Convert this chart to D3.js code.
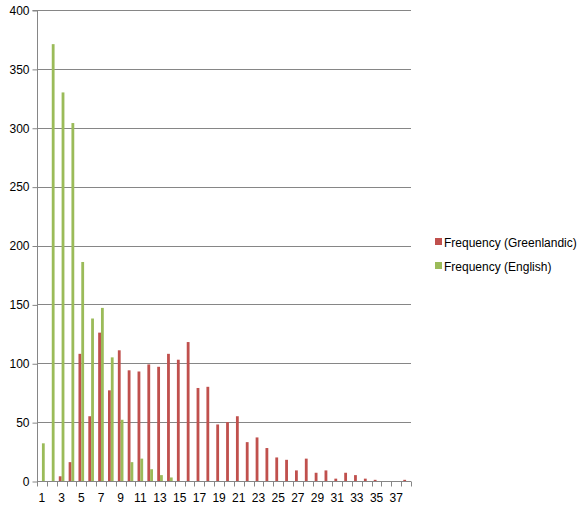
<!DOCTYPE html>
<html><head><meta charset="utf-8">
<script src="https://cdn.jsdelivr.net/npm/d3@7"></script>
<style>body{margin:0;background:#fff}svg{display:block;font-family:"Liberation Sans",Arial,sans-serif}</style>
</head><body><div id="chart"></div>
<script>
const categories = d3.range(1, 39);
const seriesNames = ["Frequency (Greenlandic)", "Frequency (English)"];
const greenlandic = [0,0,4,16,108,55,126,77,111,94,93,99,97,108,103,118,79,80,48,50,55,33,37,28,20,18,9,19,7,9,2,7,5,2,1,0,0,1];
const english = [32,371,330,304,186,138,147,105,52,16,19,10,5,3,0,0,0,0,0,0,0,0,0,0,0,0,0,0,0,0,0,0,0,0,0,0,0,0];
const yTicks = [0,50,100,150,200,250,300,350,400];
const xLabels = categories.filter(c => c % 2 === 1);
const colors = ["#C0504D", "#9BBB59"];

const W = 583, H = 508;
const m = {left: 37, right: 172, top: 10, bottom: 27};
const svg = d3.select("#chart").append("svg").attr("width", W).attr("height", H);

const x = d3.scaleBand().domain(categories).range([m.left, W - m.right]).padding(0);
const xs = d3.scaleBand().domain(seriesNames).range([0, x.bandwidth()]).paddingInner(0).paddingOuter(0.75);
const y = d3.scaleLinear().domain([0, 400]).range([H - m.bottom, m.top]);

// gridlines
svg.append("g").selectAll("line").data(yTicks.filter(d => d > 0)).join("line")
  .attr("x1", m.left).attr("x2", W - m.right)
  .attr("y1", d => Math.round(y(d)) + 0.5).attr("y2", d => Math.round(y(d)) + 0.5)
  .attr("stroke", "#868686").attr("stroke-width", 1);

// bars
const data = [greenlandic, english];
data.forEach((vals, si) => {
  svg.append("g").selectAll("rect").data(categories).join("rect")
    .attr("x", (c) => x(c) + xs(seriesNames[si]))
    .attr("width", xs.bandwidth())
    .attr("y", (c, i) => y(vals[i]))
    .attr("height", (c, i) => y(0) - y(vals[i]))
    .attr("fill", colors[si]);
});

// y axis
const yAxis = d3.axisLeft(y).tickValues(yTicks).tickSize(5).tickPadding(3).tickFormat(d3.format("d"));
const gy = svg.append("g").attr("transform", `translate(${m.left + 0.5},0.5)`).call(yAxis);
gy.select(".domain").attr("stroke", "#868686").attr("d", `M-5,${y(400)}H0V${y(0)}`);
gy.selectAll(".tick line").attr("stroke", "#868686");
gy.selectAll(".tick text").attr("font-size", 12).attr("fill", "#000").attr("font-family", "Liberation Sans, Arial, sans-serif");

// x axis
const gx = svg.append("g").attr("transform", `translate(0,${Math.round(y(0)) + 0.5})`);
gx.append("line").attr("x1", m.left).attr("x2", W - m.right).attr("stroke", "#868686");
gx.selectAll("line.tk").data(categories.concat([39])).join("line").attr("class", "tk")
  .attr("x1", c => Math.round(c === 39 ? W - m.right : x(c)) + 0.5)
  .attr("x2", c => Math.round(c === 39 ? W - m.right : x(c)) + 0.5)
  .attr("y1", 0).attr("y2", 5).attr("stroke", "#868686");
const xAxis = d3.axisBottom(x).tickValues(xLabels).tickSize(0).tickPadding(12);
const gx2 = svg.append("g").attr("transform", `translate(0,${Math.round(y(0))})`).call(xAxis);
gx2.select(".domain").remove();
gx2.selectAll(".tick text").attr("font-size", 12).attr("fill", "#000").attr("font-family", "Liberation Sans, Arial, sans-serif");

// legend
const lg = svg.append("g").attr("transform", "translate(435,237)");
seriesNames.forEach((s, i) => {
  const g = lg.append("g").attr("transform", `translate(0,${i * 24})`);
  g.append("rect").attr("width", 7).attr("height", 7).attr("y", 1).attr("fill", colors[i]);
  g.append("text").attr("x", 9).attr("y", 9.5).attr("font-size", 12).attr("fill", "#000").text(s);
});
</script>
</body></html>
